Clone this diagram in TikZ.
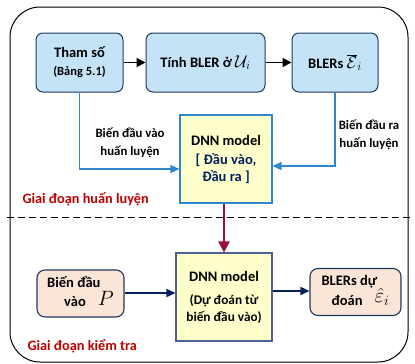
\documentclass[tikz,border=0pt]{standalone}
\usepackage{fontspec}
\setmainfont{Carlito}
\usepackage{tikz}
\usetikzlibrary{arrows.meta}
\definecolor{BFill}{HTML}{C5E3F6}
\definecolor{YFill}{HTML}{FFFFCC}
\definecolor{PFill}{HTML}{FBE5D6}
\definecolor{NBorder}{HTML}{1F3864}
\definecolor{LBlue}{HTML}{2E86CF}
\definecolor{DBlue}{HTML}{002060}
\definecolor{SRed}{HTML}{C00000}
\definecolor{Maroon}{HTML}{9B0E3E}
\definecolor{GBorder}{HTML}{4F5F8F}

\begin{document}
\begin{tikzpicture}[
  x=1pt,y=-1pt,
  every node/.style={font=\bfseries\fontsize{14.5}{17}\selectfont},
  param/.style={draw=NBorder,fill=BFill,rounded corners=7pt,line width=1pt,
    minimum height=59pt,align=center,inner sep=2pt},
  model/.style={draw=LBlue,fill=YFill,line width=1.1pt,minimum height=88pt,
    align=center,inner sep=2pt},
  testbox/.style={draw=NBorder,fill=PFill,rounded corners=8pt,line width=1.1pt,
    minimum height=47pt,align=center,inner sep=2pt},
  note/.style={align=center,font=\bfseries\fontsize{12.8}{18}\selectfont},
  phase/.style={text=SRed,anchor=west,font=\bfseries\fontsize{14.3}{17}\selectfont},
  arr/.style={-{Triangle[length=9pt,width=9pt]},line width=1.8pt},
  trainarr/.style={-{Triangle[length=9pt,width=8pt]},line width=1.3pt,color=LBlue},
  testarr/.style={-{Triangle[length=9pt,width=8pt]},line width=1.6pt,color=DBlue}
]
  \useasboundingbox (0,0) rectangle (415,364);
  \draw[line width=1pt,rounded corners=30pt] (10,7) rectangle (408,362);

  % training stage
  \node[param,minimum width=87pt] (thamso) at (79.5,62.5)
    {Tham số\\[1pt]{\fontsize{12.5}{14}\selectfont(Bảng 5.1)}};
  \node[param,minimum width=119pt] (tinhbler) at (205.5,62.5)
    {Tính BLER ở {\fontsize{18}{18}\selectfont$\mathcal{U}_{i}$}};
  \node[param,minimum width=86pt] (blers) at (335,62.5)
    {BLERs {\fontsize{18}{18}\selectfont$\overline{\mathcal{E}}_{i}$}};
  \node[model,minimum width=92pt] (dnntrain) at (226,159)
    {DNN model\\[2pt]{\color{DBlue}[ Đầu vào,}\\{\color{DBlue}Đầu ra ]}};

  \draw[arr] (thamso) -- (tinhbler);
  \draw[arr] (tinhbler) -- (blers);
  \draw[trainarr] (thamso.south) |- (dnntrain.west |- 0,169);
  \draw[trainarr] (blers.south) |- (dnntrain.east |- 0,166);
  \node[note] (inlabel) at (130,143) {Biến đầu vào\\huấn luyện};
  \node[note] (outlabel) at (369,135) {Biến đầu ra\\huấn luyện};
  \node[phase] (trainphase) at (19,199) {Giai đoạn huấn luyện};

  \draw[dashed,line width=1pt,dash pattern=on 7pt off 4pt] (7,217) -- (411,217);

  % testing stage
  \node[model,draw=GBorder,minimum width=96pt] (dnntest) at (224,297)
    {DNN model\\[6pt]{\fontsize{13.3}{16}\selectfont(Dự đoán từ}\\
     {\fontsize{13.3}{16}\selectfont biến đầu vào)}};
  \node[testbox,minimum width=87pt] (inputp) at (80.5,293.5)
    {\begin{tabular}{@{}l@{}}Biến đầu\\[-2pt]\hspace{17pt}vào\hspace{12pt}\raisebox{1pt}{\fontsize{21}{21}\selectfont$P$}\end{tabular}};
  \node[testbox,minimum width=91pt] (predict) at (355.5,292)
    {\begin{tabular}{@{}l@{}}BLERs dự\\[-2pt]\hspace{10pt}đoán\hspace{12pt}\raisebox{3pt}{\fontsize{21}{21}\selectfont$\hat{\varepsilon}_{i}$}\end{tabular}};

  \draw[-{Triangle[length=11pt,width=11pt]},line width=2.2pt,color=Maroon]
    (dnntrain.south -| dnntest.north) -- (dnntest.north);
  \draw[testarr] (inputp.east |- 0,293) -- (dnntest.west |- 0,293);
  \draw[testarr] (dnntest.east |- 0,291) -- (predict.west |- 0,291);
  \node[phase] (testphase) at (24,346) {Giai đoạn kiểm tra};
\end{tikzpicture}
\end{document}
